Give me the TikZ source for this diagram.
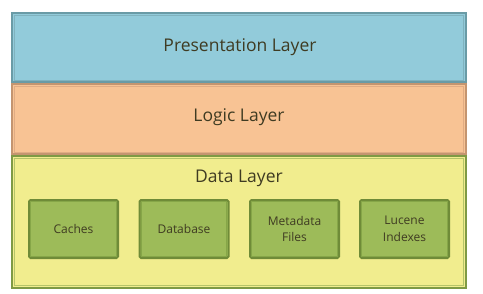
\documentclass[tikz,border=0pt]{standalone}
\usepackage{fontspec}
\setmainfont{Open Sans}
\definecolor{txt}{HTML}{3F3B22}
\definecolor{pfill}{HTML}{92CBDA}
\definecolor{pdraw}{HTML}{6A9BA6}
\definecolor{plite}{HTML}{80B2BE}
\definecolor{lfill}{HTML}{F8C394}
\definecolor{ldraw}{HTML}{C49570}
\definecolor{llite}{HTML}{E0AC84}
\definecolor{dfill}{HTML}{F1ED8E}
\definecolor{ddraw}{HTML}{7E9A45}
\definecolor{dlite}{HTML}{B4C46A}
\definecolor{gfill}{HTML}{9DBB59}
\definecolor{gdraw}{HTML}{6F8B38}
\definecolor{glite}{HTML}{86A648}
\tikzset{
  comp/.style={fill=gfill, draw=gdraw, line width=2pt, rounded corners=1.5pt,
    minimum width=89pt, minimum height=58pt, inner sep=0pt, text=txt,
    font=\fontsize{12}{16.5}\selectfont, align=center},
  ltitle/.style={text=txt, font=\fontsize{17.5}{20}\selectfont, inner sep=0pt}
}
\begin{document}
\begin{tikzpicture}[x=1pt,y=-1pt]
\useasboundingbox (0,0) rectangle (483,293);
% Presentation
\path[fill=pfill] (11,12) rectangle (467,82);
\draw[pdraw, line width=2.2pt] (12,13) rectangle (466,82);
\draw[plite, line width=0.9pt] (14.4,15.4) rectangle (463.6,80);
\node[ltitle] (pres) at (240,47.5) {Presentation Layer};
% Logic
\path[fill=lfill] (11,83) rectangle (467,154);
\draw[ldraw, line width=2.2pt] (12,84) rectangle (466,154);
\draw[llite, line width=0.9pt] (14.4,86.4) rectangle (463.6,152);
\node[ltitle] (logic) at (239,117.5) {Logic Layer};
% Data
\path[fill=dfill] (11,155) rectangle (467,289);
\draw[ddraw, line width=2.2pt] (12,156) rectangle (466,288);
\draw[dlite, line width=0.9pt] (14.4,158.4) rectangle (463.6,285.6);
\node[ltitle] (data) at (239,178.5) {Data Layer};
% Components
\foreach \n/\x/\t in {cache/73.5/Caches, db/184/Database, meta/294.5/{Metadata\\Files}, lucene/404.5/{Lucene\\Indexes}}{
  \node[comp] (\n) at (\x,229) {\t};
  \draw[glite, line width=0.9pt] ([shift={(2.7,2.7)}]\n.north west) rectangle ([shift={(-2.7,-2.7)}]\n.south east);
}
\end{tikzpicture}
\end{document}
